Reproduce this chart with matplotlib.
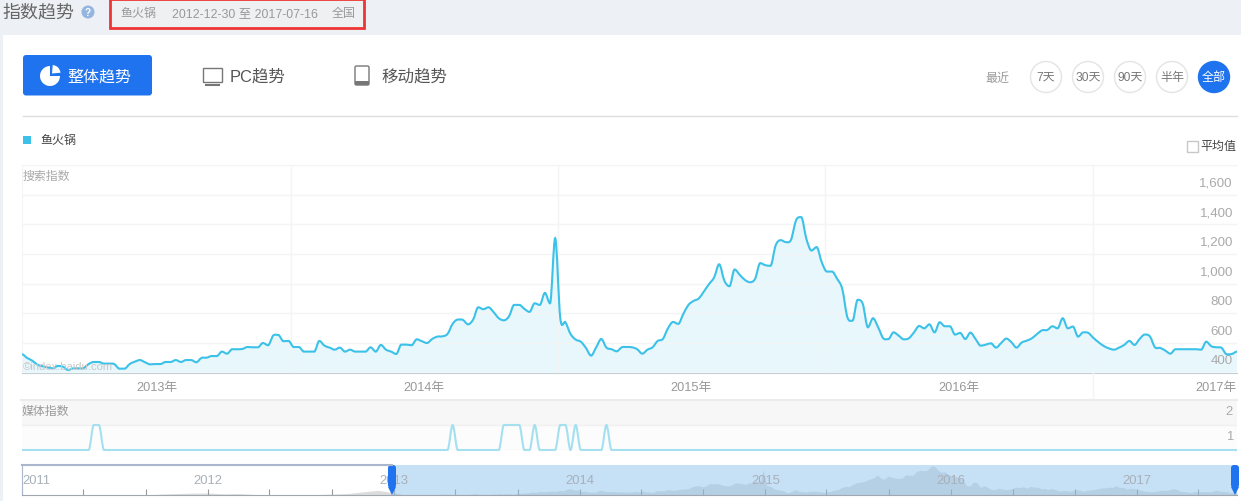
import numpy as np
import pandas as pd
import matplotlib
matplotlib.use('Agg')
import matplotlib.pyplot as plt
import matplotlib.dates as mdates
from matplotlib.path import Path
from matplotlib.patches import Rectangle, FancyBboxPatch, Circle, Wedge, Polygon, PathPatch
from matplotlib.transforms import ScaledTranslation

plt.rcParams['font.family'] = ['Liberation Sans', 'Noto Sans CJK SC']

W, H = 1241, 502

# weekly search index, 2012-12-30 to 2017-07-16
search_index = [
    523, 498, 480, 453, 442, 435, 428, 444, 439, 417, 428, 428, 430, 457, 471, 471,
    460, 460, 457, 426, 426, 457, 473, 484, 469, 455, 457, 457, 471, 471, 484, 471,
    484, 484, 469, 498, 500, 511, 511, 541, 527, 557, 557, 559, 572, 570, 570, 599,
    584, 649, 653, 611, 613, 572, 572, 541, 541, 541, 613, 581, 568, 554, 568, 541,
    554, 541, 541, 541, 570, 541, 586, 554, 541, 525, 588, 588, 584, 624,
    611, 599, 626, 642, 644, 660, 728, 757, 755, 725, 757, 840, 827, 840, 807, 766,
    752, 779, 856, 856, 829, 809, 867, 856, 937, 867, 1306, 766, 739, 660, 622, 608,
    566, 514, 570, 626, 568, 557, 543, 570, 572, 570, 557, 527, 554, 570, 613, 626,
    698, 741, 728, 795, 856, 883, 899, 946, 996, 1041, 1130, 1020, 982, 1095, 1059, 1025,
    1009, 1032, 1138, 1124, 1120, 1257, 1293, 1280, 1295, 1428, 1448, 1302, 1223, 1246, 1144, 1081,
    1081, 1032, 964, 773, 750, 890, 863, 705, 766, 705, 631, 626, 671, 649, 624, 631,
    671, 714, 698, 725, 671, 739, 712, 712, 656, 667, 626, 669, 626, 581, 588, 597,
    568, 599, 629, 604, 568, 602, 615, 631, 660, 685, 687, 712, 698, 766, 698, 710,
    642, 671, 667, 633, 604, 579, 563, 554, 568, 586, 613, 586, 626, 656, 644, 570,
    566, 548, 527, 557, 557, 557, 557, 557, 554, 608, 577, 570, 566, 523, 525, 541,
]
# weeks (counted from the first date) where the media index reads 2, otherwise 1
media_peak_weeks = [14, 15, 84, 94, 95, 96, 97, 100, 105, 106, 108, 114]

# navigator history before the main range
history_dates = ['2011-01-01', '2011-09-01', '2011-10-01', '2011-11-01', '2011-12-01', '2012-01-01',
                 '2012-02-01', '2012-03-01', '2012-04-01', '2012-05-01', '2012-07-01', '2012-08-01',
                 '2012-09-01', '2012-10-01', '2012-11-01', '2012-12-01']
history_values = [440, 440, 470, 490, 505, 510, 480, 490, 460, 445, 445, 455, 470, 490, 550, 600]

y_ticks = [400, 600, 800, 1000, 1200, 1400, 1600, 1800]
y_labels = ['400', '600', '800', '1,000', '1,200', '1,400', '1,600', '']
year_starts = ['2014-01-01', '2015-01-01', '2016-01-01', '2017-01-01']
year_label_dates = ['2013-07-02', '2014-07-02', '2015-07-02', '2016-07-02', '2017-06-18']
year_labels = ['2013年', '2014年', '2015年', '2016年', '2017年']
nav_years = ['2011', '2012', '2013', '2014', '2015', '2016', '2017']
range_buttons = ['7天', '30天', '90天', '半年', '全部']

LINE = '#3cc1e8'
FILL = '#e8f7fc'
BLUE = '#1f73ee'
GRID = '#f2f4f6'

dates = pd.date_range('2012-12-30', periods=len(search_index), freq='7D')
media_index = [2 if i in media_peak_weeks else 1 for i in range(len(dates))]


def px_axes(left, top, right, bottom, zorder=1):
    ax = fig.add_axes([left / W, 1 - bottom / H, (right - left) / W, (bottom - top) / H], zorder=zorder)
    return ax


def px_text(ax, x, y, s, size, color, ha='left', **kw):
    # size given in pixels like the page css
    ax.text(x, y + 1.5, s, fontsize=size * 0.72, color=color, ha=ha, va='center', **kw)


def spline_path(xs, ys, base=None):
    # bezier through the weekly points, flat at each local peak, like the site draws it
    xs = np.asarray(mdates.date2num(xs), dtype=float)
    ys = np.asarray(ys, dtype=float)
    slopes = np.zeros(len(ys))
    for i in range(1, len(ys) - 1):
        if (ys[i] - ys[i - 1]) * (ys[i + 1] - ys[i]) > 0:
            slopes[i] = (ys[i + 1] - ys[i - 1]) / (xs[i + 1] - xs[i - 1])
    verts = [(xs[0], ys[0])]
    codes = [Path.MOVETO]
    for i in range(len(ys) - 1):
        dx = (xs[i + 1] - xs[i]) / 3
        verts += [(xs[i] + dx, ys[i] + slopes[i] * dx),
                  (xs[i + 1] - dx, ys[i + 1] - slopes[i + 1] * dx),
                  (xs[i + 1], ys[i + 1])]
        codes += [Path.CURVE4] * 3
    if base is not None:
        verts += [(xs[-1], base), (xs[0], base), (xs[0], ys[0])]
        codes += [Path.LINETO, Path.LINETO, Path.CLOSEPOLY]
    return Path(verts, codes)


fig = plt.figure(figsize=(W / 100, H / 100), dpi=100, facecolor='#edf0f4')

# page furniture, in pixel coordinates
bg = px_axes(0, 0, W, H, zorder=0)
bg.set_xlim(0, W)
bg.set_ylim(H, 0)
bg.axis('off')
bg.add_patch(Rectangle((3, 36), W - 3, H - 36, fc='white', ec='none'))
px_text(bg, 2, 11, '指数趋势', 18, '#666666')
bg.add_patch(Circle((88, 13), 6.5, fc='#94b5e0', ec='none'))
bg.text(88, 13.5, '?', fontsize=7, color='white', ha='center', va='center', fontweight='bold')
bg.add_patch(Rectangle((110, 0), 254, 29, fc='#eff0f2', ec='#ee3535', lw=2))
px_text(bg, 120, 13, '鱼火锅', 12, '#999999')
px_text(bg, 172, 13, '2012-12-30 至 2017-07-16', 12.4, '#999999')
px_text(bg, 332, 13, '全国', 12, '#999999')

bg.add_patch(FancyBboxPatch((25, 58), 125, 36.5, boxstyle='round,pad=2,rounding_size=3', fc=BLUE, ec='none'))
bg.add_patch(Wedge((50, 77), 10, 0, 270, fc='white', ec='none'))
bg.add_patch(Wedge((52, 74.5), 8.5, 275, 355, fc='white', ec='none'))
px_text(bg, 67, 75, '整体趋势', 16, 'white')

bg.add_patch(Rectangle((203, 69), 19, 14, fc='none', ec='#777777', lw=1))
bg.plot([206, 219], [86, 86], color='#777777', lw=1.5)
px_text(bg, 230, 75, 'PC趋势', 16.5, '#555555')
bg.add_patch(FancyBboxPatch((355.5, 67.5), 13, 18, boxstyle='round,pad=0.5,rounding_size=1.5', fc='white', ec='#777777', lw=1))
bg.add_patch(Rectangle((355, 81.5), 14, 4.5, fc='#777777', ec='none'))
px_text(bg, 381, 75, '移动趋势', 16.5, '#555555')

bg.plot([23, 1237], [116.5, 116.5], color='#dddddd', lw=1)
px_text(bg, 985, 77, '最近', 12, '#999999')
for i, label in enumerate(range_buttons):
    cx = 1046 + 42 * i
    active = label == '全部'
    bg.add_patch(Circle((cx, 78), 15.5, fc=BLUE if active else 'white', ec=BLUE if active else '#e4e4e4', lw=1))
    px_text(bg, cx, 76.5, label, 12, 'white' if active else '#777777', ha='center')

bg.add_patch(Rectangle((23, 137), 8, 8, fc=LINE, ec='none'))
px_text(bg, 40, 140, '鱼火锅', 12, '#444444')
bg.add_patch(Rectangle((1186.5, 141.5), 11, 11, fc='white', ec='#c8c8c8', lw=1))
px_text(bg, 1200, 145, '平均值', 12, '#444444')

# search index
ax = px_axes(22, 166, 1237, 373.5)
ax.set_facecolor('none')
ax.add_patch(PathPatch(spline_path(dates, search_index, base=400), fc=LINE, alpha=0.12, lw=0, zorder=1))
ax.add_patch(PathPatch(spline_path(dates, search_index), fc='none', ec=LINE, lw=1.5, zorder=3))
ax.set_xlim(dates[0], dates[-1])
ax.set_ylim(400, 1800)
ax.set_yticks(y_ticks, labels=y_labels)
ax.yaxis.tick_right()
ax.set_xticks(pd.to_datetime(year_starts))
ax.set_xticks(pd.to_datetime(year_label_dates), labels=year_labels, minor=True)
ax.tick_params(axis='x', which='major', length=0, labelbottom=False)
ax.tick_params(axis='x', which='minor', length=0, pad=6, labelsize=9.2, labelcolor='#999999')
ax.tick_params(axis='y', length=0, pad=-3, labelsize=9.6, labelcolor='#aaaaaa')
ax.grid(True, color=GRID, lw=1)
ax.set_axisbelow(False)
shift = ScaledTranslation(0, 13.5 / 100, fig.dpi_scale_trans)
for lab in ax.get_yticklabels():
    lab.set_horizontalalignment('right')
    lab.set_transform(lab.get_transform() + shift)
for side in ['top', 'right', 'left']:
    ax.spines[side].set_color(GRID)
ax.spines['right'].set_visible(False)
ax.spines['bottom'].set_color('#c6ced6')
ax.text(0.001, 0.015, '©index.baidu.com', transform=ax.transAxes, fontsize=8.1, color='#c9c9c9', zorder=4)
ax.text(0.0005, 0.945, '搜索指数', transform=ax.transAxes, fontsize=8.6, color='#aaaaaa', va='center')

# media index
ax2 = px_axes(22, 401, 1237, 451)
ax2.set_facecolor('#fcfcfc')
ax2.axhspan(2, 3, color='#f7f7f7', lw=0, zorder=0)
ax2.add_patch(PathPatch(spline_path(dates, media_index), fc='none', ec='#a4e0ef', lw=1.5, clip_on=False, zorder=3))
ax2.set_xlim(dates[0], dates[-1])
ax2.set_ylim(1, 3)
ax2.set_yticks([1, 2], labels=['1', '2'])
ax2.yaxis.tick_right()
ax2.set_xticks([])
ax2.tick_params(axis='y', length=0, pad=-3, labelsize=9.4, labelcolor='#aaaaaa')
shift2 = ScaledTranslation(0, 15 / 100, fig.dpi_scale_trans)
for lab in ax2.get_yticklabels():
    lab.set_horizontalalignment('right')
    lab.set_transform(lab.get_transform() + shift2)
ax2.grid(True, axis='y', color='#f0f0f0', lw=1)
for side in ax2.spines:
    ax2.spines[side].set_visible(False)
ax2.text(0.0, 0.79, '媒体指数', transform=ax2.transAxes, fontsize=8.6, color='#999999', va='center')

# navigator
nav = px_axes(22, 466, 1237, 496)
all_dates = list(pd.to_datetime(history_dates)) + list(dates)
all_values = history_values + search_index
nav.fill_between(all_dates, 440, all_values, color='#dcdcdc', lw=0, zorder=1)
nav.axvspan(dates[0], dates[-1], color='#8fc3ee', alpha=0.5, lw=0, zorder=2)
nav.set_xlim(pd.Timestamp('2011-01-01'), dates[-1])
nav.set_ylim(440, 1480)
nav.set_yticks([])
nav.xaxis.set_major_locator(mdates.MonthLocator(bymonth=[1, 5, 9]))
nav.tick_params(axis='x', direction='in', length=4, color='#999999', labelbottom=False, width=0.8)
for side in ['top', 'right']:
    nav.spines[side].set_visible(False)
nav.spines['left'].set_color('#a9b6cc')
nav.spines['bottom'].set_color('#a0a7b0')
for y in nav_years:
    ha = 'left' if y == '2011' else 'center'
    nav.text(pd.Timestamp(y + '-01-01'), 0.5, y, transform=nav.get_xaxis_transform(), ha=ha, va='center',
             fontsize=9.4, color='#a8b0b8', zorder=3)

# things sitting on top of the charts
top = px_axes(0, 0, W, H, zorder=5)
top.set_facecolor('none')
top.set_xlim(0, W)
top.set_ylim(H, 0)
top.axis('off')
top.plot([1092.5, 1092.5], [373.5, 400], color=GRID, lw=1)
top.plot([21, 1237], [401, 401], color='#ececec', lw=1.5)
top.plot([22, 392], [466, 466], color='#a9b6cc', lw=1.5)
for x in [392, 1235]:
    top.add_patch(FancyBboxPatch((x - 3, 467), 6, 21, boxstyle='round,pad=1,rounding_size=3', fc=BLUE, ec='none'))
    top.add_patch(Polygon([(x - 4, 488), (x + 4, 488), (x, 496)], fc=BLUE, ec='none'))

fig.savefig('out.png', dpi=100, facecolor=fig.get_facecolor())
